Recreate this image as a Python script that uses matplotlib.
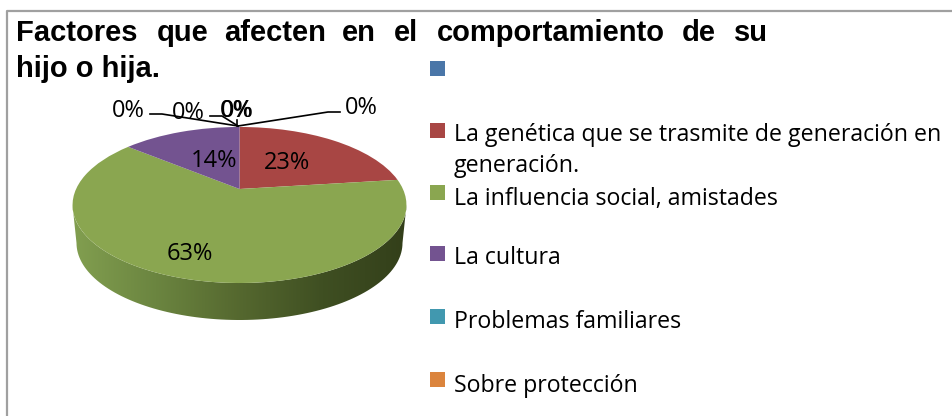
import numpy as np
from matplotlib import pyplot as plt
from matplotlib.colors import LinearSegmentedColormap
from matplotlib.patches import Polygon, Rectangle
from matplotlib.transforms import Transform

categories = ['', 'La genética que se trasmite de generación en\ngeneración.',
              'La influencia social, amistades', 'La cultura',
              'Problemas familiares', 'Sobre protección']
values = [0, 23, 63, 14, 0, 0]
colors = ['#4a76a8', '#a84644', '#8aa650', '#735390', '#4198af', '#db843d']
title_line1 = ['Factores', 'que', 'afecten', 'en', 'el', 'comportamiento', 'de', 'su']
title_line2 = 'hijo o hija.'
zero_label = '0%'


class Perspective(Transform):
    """Tilts the unit pie into the foreshortened top face, in pixels."""
    input_dims = 2
    output_dims = 2

    def transform_non_affine(self, values):
        pts = np.asarray(values, dtype=float)
        x, y = pts[:, 0], -pts[:, 1]
        w = 1 - 0.205 * y
        return np.column_stack([239.5 + 163.4 * x / w, (36 * y + 189) / w])


plt.rcParams['font.family'] = ['Open Sans', 'DejaVu Sans']

fig = plt.figure(figsize=(9.53, 4.16), dpi=100)
ax = fig.add_axes([0, 0, 1, 1])

ax.pie(values, colors=colors, startangle=90, counterclock=False,
       wedgeprops={'transform': Perspective() + ax.transData, 'linewidth': 0, 'zorder': 3})
ax.set_aspect('auto')

# side wall of the 3d pie, shaded left to right
t = np.linspace(0, np.pi, 100)
top_x, top_y = 239.5 + 167 * np.cos(t), 205 + 78 * np.sin(t)
low_x, low_y = 239.5 + 163 * np.cos(t), 243 + 77 * np.sin(t)
wall = Polygon(np.column_stack([np.r_[top_x, low_x[::-1]], np.r_[top_y, low_y[::-1]]]),
               transform=ax.transData, facecolor='none', edgecolor='none')
ax.add_patch(wall)
shade = LinearSegmentedColormap.from_list('wall', ['#829f50', '#6b8540', '#55682f', '#3f4f22', '#333f1a'])
img = ax.imshow(np.linspace(0, 1, 256).reshape(1, -1), cmap=shade, aspect='auto',
                extent=(72, 407, 325, 200), zorder=2)
img.set_clip_path(wall)

ax.set_xlim(0, 953)
ax.set_ylim(416, 0)
ax.axis('off')

# chart border, only left and top are in the crop
ax.plot([7, 7, 953], [416, 10.5, 10.5], color='#a0a0a0', lw=1.6, zorder=1)

# title, first line is justified
title_x = [16, 157, 224, 342, 394, 437, 682, 734]
for word, x in zip(title_line1, title_x):
    ax.text(x, 41, word, family='Liberation Sans', weight='bold', fontsize=21,
            ha='left', va='baseline', color='black')
ax.text(16, 77, title_line2, family='Liberation Sans', weight='bold', fontsize=21,
        ha='left', va='baseline', color='black')

# percentage labels
label_size = 17
ax.text(287, 169, f'{values[1]}%', fontsize=label_size, ha='center', va='baseline', zorder=5)
ax.text(190, 260, f'{values[2]}%', fontsize=label_size, ha='center', va='baseline', zorder=5)
ax.text(214, 167, f'{values[3]}%', fontsize=label_size, ha='center', va='baseline', zorder=5)
for x, y in [(128, 117), (188, 119), (236.6, 117), (237.6, 117), (361, 114)]:
    ax.text(x, y, zero_label, fontsize=label_size, ha='center', va='baseline', zorder=5)

# leader lines of the zero slices
ax.plot([150, 162, 238], [114, 114, 126], color='black', lw=1.2, zorder=6)
ax.plot([210, 222, 238], [116, 116, 126], color='black', lw=1.2, zorder=6)
ax.plot([237, 237], [120, 126], color='black', lw=1.2, zorder=6)
ax.plot([340, 328, 238], [112, 112, 126], color='black', lw=1.2, zorder=6)

# legend
swatch_y = [61, 123, 185, 246, 309, 372]
text_y = [68, 172.5, 205, 264, 328.5, 391.5]
for name, color, sy, ty in zip(categories, colors, swatch_y, text_y):
    ax.add_patch(Rectangle((430, sy), 15, 15, facecolor=color, edgecolor='none'))
    ax.text(454, ty, name, fontsize=16.7, ha='left', va='baseline', color='black',
            linespacing=1.42)

fig.savefig('out.png', dpi=100)
